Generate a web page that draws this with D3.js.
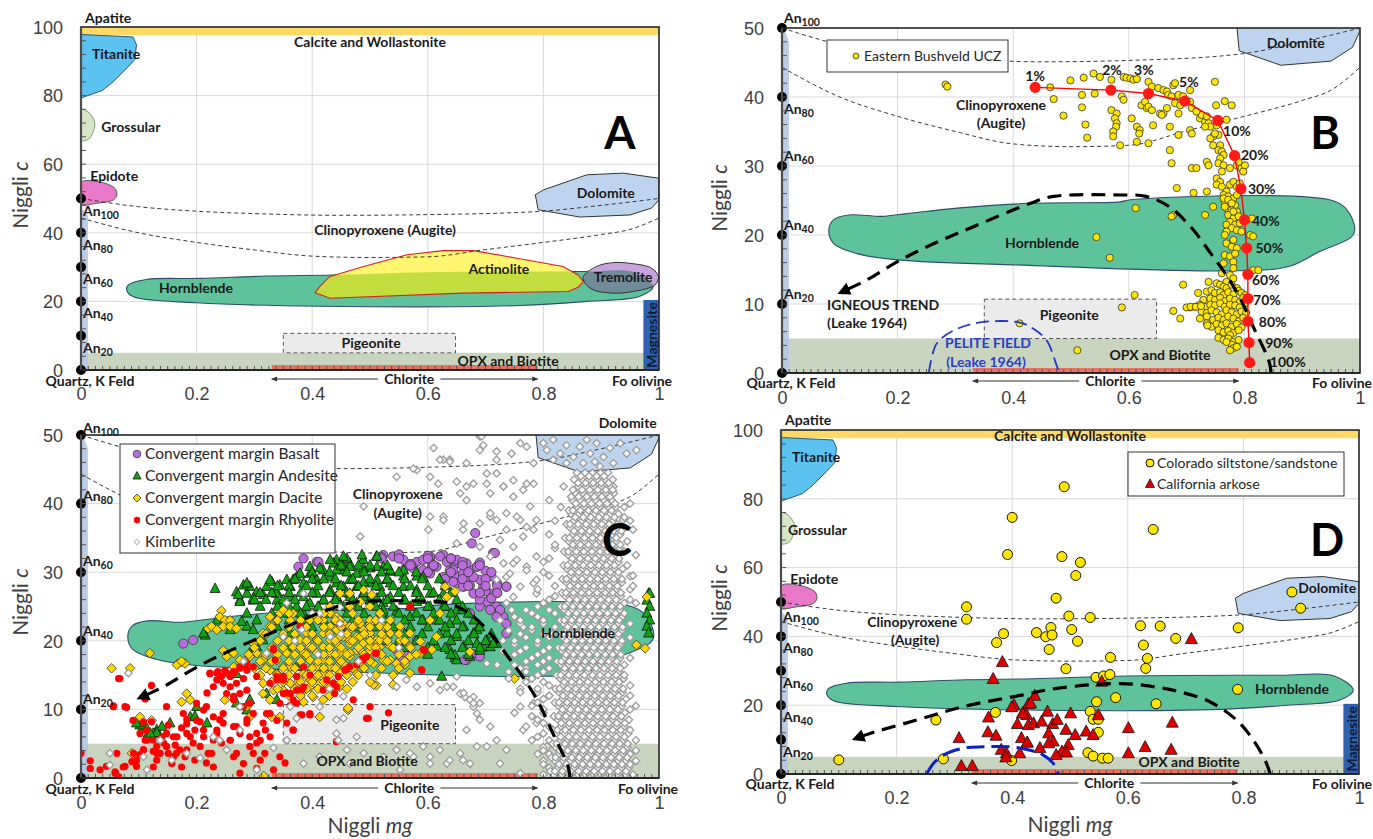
<!DOCTYPE html>
<html><head><meta charset="utf-8">
<script src="https://cdn.jsdelivr.net/npm/d3@7"></script>
<style>
body{margin:0;background:#fff;}
svg{display:block;font-family:Lato,"Open Sans",sans-serif;}
.lbl{font-weight:700;font-size:14px;fill:#1a1a1a;}
.tick{font-size:18px;fill:#404040;}
</style></head><body>
<svg id="c" width="1373" height="839"></svg>
<script>
// ---------- tick labels ----------
const xTicks=[0,0.2,0.4,0.6,0.8,1];
const yTicks100=[0,20,40,60,80,100];
const yTicks50=[0,10,20,30,40,50];
const anValues=[50,40,30,20,10,0];
const anSubs=["100","80","60","40","20",null];

// ---------- mineral fields (Niggli mg, Niggli c) ----------
const titanite=[[0,97.8],[.09,97.1],[.096,94.8],[.093,90.5],[.079,88],[.056,84.1],[.037,81.5],[0,79.3]];
const grossular=[[0,75.9],[.011,75.4],[.021,73.4],[.024,71.5],[.02,69],[.013,67.3],[0,67]];
const epidote=[[0,54.7],[.033,54.8],[.059,52.9],[.062,51],[.056,49.6],[.027,48.6],[0,48.4]];
const dolomite=[[.786,51.1],[.80,52.5],[.875,56.9],[.938,57.4],[1,55.9],[1,49.6],[.987,47.2],[.95,45.2],[.863,44.6],[.791,46.7]];
const hornblendeFull=[[.079,23.3],[.082,24.8],[.113,26.4],[.206,26.7],[.321,27.4],[.436,27.7],[.6,28.5],[.863,28.7],[.957,28.5],[.99,24.4],[.967,21.5],[.875,20],[.76,18.8],[.412,18.6],[.2,19.6],[.09,21.4]];
const hornblendeHalf=[[.081,20.7],[.089,22.2],[.115,22.9],[.173,22.7],[.216,23.1],[.303,23.9],[.43,24.6],[.585,24.8],[.603,25.1],[.956,24.9],[.982,23.1],[.991,20.7],[.985,19.7],[.93,17.6],[.875,15.4],[.759,14.8],[.43,15.6],[.2,16.4],[.13,17.3],[.089,18.8]];
const actinolite=[[.405,22.5],[.413,24.3],[.43,27.2],[.489,30.2],[.564,33.6],[.627,34.8],[.679,34.8],[.754,32.6],[.834,30.2],[.86,27.7],[.869,25.8],[.86,24.1],[.843,22.9],[.661,22.4],[.431,20.9]];
const tremolite=[[.869,27.2],[.892,30.2],[.92,31.3],[.95,31.1],[.987,29.7],[.999,27.2],[.993,24.8],[.956,22.9],[.922,22.4],[.887,23.3],[.872,25.3]];
const magnesite=[.973,1,0,20.4];
const pigeonite=[.35,.648,5,10.7];
const opxTop=5, apatiteBottom=97.6, chlorite=[.33,.79];
const cpxUpper=[[0,50],[.1,47.6],[.2,46.3],[.3,45.6],[.45,45.1],[.6,45.3],[.79,46.2],[.9,48],[1,50]];
const cpxLower=[[0,44.3],[.1,40],[.2,37.2],[.3,35],[.4,33.2],[.5,32.8],[.6,33],[.7,35.1],[.8,37.2],[.9,39.5],[.95,41],[1,44.3]];
const trendHalf=[[.846,0],[.843,1.6],[.817,6.4],[.794,10.6],[.771,13.9],[.742,17.3],[.707,21.2],[.67,24.1],[.63,25.6],[.585,25.8],[.47,25.6],[.43,24.6],[.331,21.2],[.256,18.5],[.199,16.1],[.147,13.5],[.11,12]];
const trendD=[[.846,0],[.84,3.1],[.817,9.9],[.788,15.7],[.742,21],[.69,23.9],[.644,25.4],[.586,26.3],[.477,24.9],[.419,23],[.316,19.6],[.235,15.7],[.154,11.8],[.137,10.8]];
const peliteB=[[.254,0],[.268,4.3],[.303,6.4],[.349,7.4],[.412,7.3],[.435,6.4],[.458,4.7],[.476,0.9],[.48,0]];
const peliteD=[[.252,0],[.264,3.1],[.281,5.5],[.315,7.5],[.35,7.9],[.396,7.9],[.431,6.9],[.454,5.5],[.471,3.1],[.48,0]];

// ---------- Panel B data ----------
const crystPct=["1%","2%","3%","5%","10%","20%","30%","40%","50%","60%","70%","80%","90%","100%"];
const crystPath=[[.438,41.4],[.569,41.0],[.634,40.5],[.697,39.4],[.754,36.6],[.783,31.5],[.794,26.7],[.800,22.2],[.804,18.1],[.806,14.3],[.806,10.8],[.806,7.5],[.808,4.4],[.809,1.5]];
const crystLabelPos=[[.438,43.0],[.571,43.9],[.626,43.9],[.704,42.2],[.787,35.1],[.818,31.6],[.830,26.7],[.837,22.0],[.843,18.1],[.837,13.5],[.839,10.6],[.849,7.4],[.860,4.3],[.875,1.6]];
const bushveld=[
[.464,41.4],[.499,42.4],[.522,42.8],[.47,39.7],[.519,40.3],[.519,38.5],[.487,37.3],[.525,36],[.528,34.1],[.511,3.3],[.411,7.2],[.283,41.8],[.286,41.5],[.544,19.7],[.567,16.7],[.612,23.9],
[.539,43.4],[.550,42.9],[.570,42.5],[.541,40.5],[.591,42.9],[.596,42.8],[.603,42.7],[.608,42.5],[.614,42.6],[.588,40.1],[.591,39.6],[.570,38.1],[.579,37.6],[.576,36.9],[.579,36.2],[.578,35.7],[.573,35.0],[.573,34.3],[.585,33.0],[.605,36.9],[.614,35.7],[.619,35.2],[.618,34.7],[.614,33.5],[.622,38.8],[.631,38.4],[.628,39.3],[.634,38.6],[.640,38.1],[.642,35.9],[.634,33.3],[.654,37.6],[.660,37.6],[.671,35.7],[.686,34.5],[.706,35.2],[.709,34.7],[.680,39.1],[.686,37.6],[.689,38.8],[.706,39.3],[.723,36.9],[.726,37.4],[.732,36.4],[.738,36.2],[.741,35.7],[.735,37.2],[.751,38.8],[.749,42.2],[.766,39.4],[.778,38.8],[.769,36.7],[.634,42.2],[.640,41.5],[.651,41.3],[.660,41.0],[.666,40.8],[.668,40.3],[.674,40.1],[.677,41.7],[.680,42.0],[.657,37.4],[.709,38.4],[.666,38.4],[.686,40.3],[.694,40.1],[.706,41.0],[.717,37.9],
[.752,35.9],[.755,34.5],[.746,34.3],[.758,33.0],[.755,32.3],[.761,32.1],[.764,31.6],[.758,31.1],[.755,30.4],[.764,30.1],[.761,29.2],[.775,29.7],[.787,30.1],[.795,29.7],[.798,29.2],[.801,30.1],[.790,30.6],[.752,28.2],[.758,27.7],[.752,27.3],[.761,27.0],[.775,27.3],[.781,27.7],[.787,27.0],[.792,27.5],[.769,26.3],[.764,25.8],[.772,25.6],[.781,25.3],[.787,25.8],[.766,24.8],[.775,24.6],[.784,24.3],[.769,23.9],[.778,23.6],[.787,23.4],[.772,22.9],[.781,22.4],[.790,22.7],[.775,21.9],[.769,21.5],[.784,21.5],[.792,21.7],[.778,21.0],[.787,20.7],[.769,20.5],[.795,20.5],[.810,20.0],[.815,19.8],[.766,20.0],[.781,19.3],[.769,18.8],[.778,18.3],[.787,18.1],[.766,17.1],[.775,16.9],[.784,17.3],[.781,16.1],[.764,15.9],[.781,15.2],[.815,14.9],[.824,14.9],[.746,24.1],[.813,22.4],[.735,30.6],[.738,30.1],[.735,26.3],[.712,26.1],[.683,26.8],[.674,30.4],[.671,32.3],[.709,29.7],[.717,29.7],[.677,22.9],[.674,22.7],[.732,22.9],[.746,33.0],[.741,34.0],[.749,34.7],[.732,35.7],[.764,25.3],[.772,25.1],[.778,24.6],[.766,24.1],[.781,23.4],
[.761,14.45],[.775,14.2],[.781,13.7],[.769,13.2],[.738,13.2],[.752,13.0],[.758,12.8],[.764,12.5],[.769,12.3],[.778,12.8],[.787,12.3],[.694,12.8],[.720,11.6],[.735,11.8],[.743,12.0],[.749,11.6],[.758,11.7],[.764,11.3],[.772,11.7],[.781,11.4],[.790,11.9],[.795,11.6],[.801,11.3],[.729,10.6],[.741,10.8],[.749,10.6],[.758,10.9],[.766,10.4],[.775,10.8],[.784,10.6],[.792,10.3],[.798,10.9],[.610,11.3],[.706,9.5],[.715,9.6],[.723,9.9],[.732,9.6],[.741,9.9],[.749,9.8],[.758,10.1],[.766,9.6],[.775,9.9],[.784,9.8],[.792,9.5],[.801,10.1],[.588,9.5],[.700,9.5],[.677,9.0],[.726,8.9],[.735,8.7],[.743,9.1],[.752,8.8],[.761,8.5],[.769,9.1],[.778,8.8],[.787,8.5],[.795,8.9],[.803,8.7],[.689,7.9],[.723,7.9],[.735,8.2],[.746,7.7],[.755,8.0],[.764,7.7],[.772,8.2],[.781,7.9],[.790,7.5],[.798,8.0],[.735,7.2],[.743,6.7],[.752,7.1],[.761,6.9],[.769,7.2],[.778,6.7],[.787,7.1],[.795,6.6],[.755,6.2],[.764,5.9],[.772,6.1],[.781,5.8],[.790,6.2],[.775,5.5],[.755,5.1],[.764,4.8],[.772,5.0],[.781,4.5],[.790,4.8],[.778,4.1],[.769,4.5],[.781,3.6],[.787,3.8],[.775,3.3],
[.707,9.6],[.716,9.6],[.725,9.7],[.736,6.9]
];

// ---------- Panel C data ----------
const basalt=[
[.177,19.6],[.194,20.1],[.376,30.8],[.385,32.0],[.408,31.5],[.442,31.3],[.457,31.3],[.411,31.5],
[.523,32.5],[.54,32.3],[.558,31.8],[.581,31.5],[.604,31.8],[.627,32.5],[.638,31.8],[.615,30.8],[.638,30.3],[.65,31.3],[.662,30.8],[.673,30.3],[.685,30.8],[.638,29.4],[.65,29.4],[.662,29.4],[.673,29.1],[.65,28.4],[.662,27.9],[.673,28.1],[.627,28.9],[.604,29.8],[.592,30.3],[.575,30.6],[.558,30.3],[.682,35.7],[.676,34.2],[.713,32.8],[.736,27.9],[.719,25.0],[.731,23.5],[.736,21.1],[.702,25.7],[.69,25.0],[.673,24.0],[.667,17.2],[.69,17.7],[.581,20.1],[.563,18.2],[.546,18.7],[.555,16.7],[.696,27.9],[.708,26.9],[.69,28.9],[.489,21.1],[.465,22.1],
[.716,32.8],[.621,32.3],[.633,31.5],[.65,31.8],[.667,31.3],[.685,30.8],[.644,30.3],[.661,29.8],[.679,29.3],[.627,29.3],[.644,28.6],[.661,27.9],[.679,26.9],[.69,26.0],[.708,24.5],[.725,24.5],[.736,27.9],[.719,23.5],[.736,22.5],[.664,17.2],[.552,17.2],[.676,18.1],[.592,31.8],[.604,32.3],[.607,30.8],
[.52,32.2],[.55,32.6],[.60,32.4],[.64,32.0],[.57,31.2],[.61,31.0],[.66,31.5],[.69,31.4],[.70,30.2],[.71,29.4],[.72,28.4],[.70,27.2],[.72,27.0],[.71,26.2]
];
const basaltCore=[[32,[.52,.55,.60,.64]],[31,[.57,.61,.66,.69]],[30,[.60,.64,.67,.71]],[29,[.63,.66,.70]],[28,[.67,.70,.72]],[27,[.69,.72]]];
const andesite=[
[.232,27.6],[.215,20.8],[.269,27.1],[.275,25.9],[.287,26.9],[.292,27.9],[.281,28.1],[.298,25.9],[.304,27.1],[.315,26.7],[.321,27.9],[.33,28.6],[.339,27.1],[.344,28.1],[.356,28.9],[.362,27.9],[.373,29.3],[.385,28.4],[.396,29.8],[.408,28.9],[.419,30.3],[.431,29.3],[.442,31.8],[.454,30.3],[.465,31.3],[.477,29.8],[.488,31.8],[.5,30.6],[.511,32.3],[.523,30.8],[.339,25.9],[.35,25.5],[.362,26.4],[.373,25.0],[.385,26.4],[.396,25.5],[.408,26.9],[.419,25.9],[.431,27.4],[.442,26.4],[.454,27.9],[.465,26.9],[.477,27.9],[.488,26.9],[.5,28.4],[.517,27.9],[.529,28.9],[.385,24.0],[.408,24.5],[.431,25.0],[.454,25.0],[.477,25.5],[.5,25.9],[.523,25.5],[.304,23.0],[.287,22.1],[.315,20.1],[.304,19.1],[.292,18.2],[.281,16.7],[.269,15.2],[.287,24.0],[.258,21.6],[.235,23.0],[.278,22.8],[.298,21.6],[.339,22.1],[.362,21.1],[.396,21.6],[.362,19.1],[.108,7.5],[.116,6.5],[.131,7.0],[.14,7.5],[.125,6.5],[.154,8.0],[.189,8.9],[.2,10.4],[.269,10.9],[.287,9.9],[.339,11.4],[.292,11.4],[.321,12.3],[.373,16.2],
[.212,21.1],[.275,25.7],[.272,26.7],[.287,28.4],[.298,26.2],[.327,28.9],[.338,26.9],[.367,28.9],[.379,29.8],[.396,30.8],[.413,30.6],[.437,31.3],[.46,32.0],[.454,30.8],[.102,7.7],[.114,7.2],[.131,6.6],[.096,8.0],[.12,6.5],[.197,9.0],[.218,8.0],
[.431,31.8],[.454,32.3],[.486,32.5],[.512,32.3],[.442,30.3],[.465,30.8],[.489,30.6],[.512,30.8],[.535,30.1],[.558,29.4],[.581,29.4],[.442,28.4],[.465,28.9],[.489,28.6],[.512,28.9],[.535,28.4],[.558,27.9],[.581,27.4],[.604,26.9],[.627,26.9],[.442,26.4],[.465,26.4],[.489,26.4],[.512,26.2],[.535,26.4],[.558,25.9],[.581,25.7],[.604,25.0],[.627,25.0],[.65,24.5],[.523,24.5],[.546,24.3],[.569,23.5],[.592,23.0],[.615,23.0],[.638,22.5],[.662,22.1],[.679,21.1],[.685,19.6],[.696,19.1],[.708,19.1],[.719,19.6],[.65,20.6],[.633,21.1],[.615,19.2],[.638,18.7],[.662,19.2],[.647,17.5],[.673,17.7],[.624,14.8],[.979,25.9],[.982,26.9],[.984,25.0],[.979,24.0],[.984,23.0],[.979,22.1],[.982,21.1],[.984,26.9],[.592,29.3],[.558,30.3],[.535,30.3],[.661,24.5],[.685,21.6],[.702,20.1],[.713,19.6],[.69,18.6],[.65,17.2],[.647,17.9]
];
const andesiteCore=[
[31,[.45,.48,.50,.53]],[30,[.40,.43,.46,.49,.52,.55,.58]],[29,[.37,.40,.42,.44,.47,.50,.53,.56,.59,.62]],
[28,[.34,.36,.39,.41,.45,.48,.51,.54,.57,.60,.63]],[27,[.31,.33,.36,.38,.40,.43,.46,.49,.52,.55,.58,.61,.64]],
[26,[.30,.32,.35,.37,.42,.44,.47,.50,.53,.56,.59,.62,.65]],[25,[.31,.34,.36,.39,.41,.45,.48,.51,.54,.57,.60,.63,.66]],
[24,[.33,.35,.38,.40,.43,.46,.49,.52,.55,.58,.61,.64,.67]],[23,[.36,.39,.42,.44,.47,.50,.53,.56,.59,.62,.65,.68]],
[22,[.40,.45,.48,.51,.54,.57,.60,.63,.66,.69]],[21,[.46,.50,.53,.56,.59,.62,.65,.68,.71]],[20,[.52,.55,.58,.61,.64,.67,.70]],
[19,[.56,.60,.63,.66,.69]],[18,[.60,.64,.67]]
];
const dacite=[
[.053,16.0],[.085,16.0],[.119,18.2],[.102,8.9],[.122,8.4],[.088,3.6],[.243,24.4],[.24,23.5],[.249,23.0],[.22,21.8],[.226,22.1],[.235,21.6],[.246,22.1],[.258,23.0],[.258,22.1],[.269,21.8],[.168,16.7],[.174,16.9],[.18,16.7],[.183,12.3],[.189,11.4],[.174,11.1],[.249,11.4],[.287,10.4],[.292,8.9],[.315,12.3],[.327,11.4],[.333,12.8],[.315,13.8],[.33,8.9],[.246,18.6],[.252,17.7],[.264,18.2],[.275,17.2],[.264,16.2],[.292,17.7],[.304,18.2],[.298,19.6],[.31,20.1],[.315,21.1],[.327,22.1],[.339,23.0],[.327,23.5],[.344,24.0],[.35,24.5],[.362,23.0],[.367,24.0],[.315,17.2],[.327,15.7],[.339,15.2],[.35,16.2],[.362,16.2],[.339,17.2],[.356,18.2],[.367,19.1],[.379,20.1],[.39,21.1],[.396,23.0],[.408,23.5],[.419,23.0],[.431,24.0],[.442,23.5],[.385,18.2],[.396,19.1],[.408,20.1],[.419,21.1],[.431,22.1],[.442,21.6],[.454,22.5],[.465,21.6],[.477,22.5],[.488,21.6],[.5,22.5],[.511,23.0],[.523,22.1],[.408,18.2],[.419,19.1],[.431,20.1],[.442,19.6],[.454,20.6],[.465,19.6],[.477,20.6],[.488,19.6],[.5,20.6],[.511,20.1],[.523,20.6],[.396,17.2],[.408,16.2],[.419,17.2],[.431,18.2],[.442,17.7],[.454,18.6],[.465,17.7],[.477,18.6],[.5,18.6],[.517,19.1],[.385,15.2],[.396,14.3],[.408,14.8],[.419,15.2],[.431,16.2],[.442,16.2],[.454,16.7],[.465,16.2],[.477,15.2],[.488,16.2],[.506,16.7],[.523,17.2],[.373,13.8],[.385,12.8],[.396,13.3],[.413,13.8],[.431,13.3],[.448,13.3],[.385,11.1],[.402,11.8],[.419,11.4],[.362,13.8],[.35,12.8],[.344,8.9],[.413,8.9],[.462,9.9],[.511,13.5],[.316,0.3],[.166,16.5],[.174,17.0],
[.431,25.0],[.448,26.9],[.465,26.9],[.489,27.4],[.503,26.7],[.63,27.9],[.647,27.2],[.633,26.4],[.621,24.0],[.604,23.0],[.615,20.6],[.607,18.7],[.673,18.4],[.587,19.9],[.569,21.1],[.552,22.1],[.535,23.0],[.517,24.0],[.5,25.0],[.483,25.7],[.465,25.0],[.448,23.0],[.465,22.1],[.483,22.5],[.5,23.0],[.517,22.1],[.535,21.1],[.552,20.1],[.569,19.2],[.587,18.2],[.569,17.7],[.552,18.2],[.535,19.2],[.517,20.1],[.5,21.1],[.483,20.6],[.465,20.1],[.448,20.6],[.431,21.1],[.448,18.2],[.465,18.2],[.483,18.7],[.5,19.2],[.517,18.2],[.535,17.2],[.5,17.2],[.483,16.7],[.465,16.2],[.448,15.3],[.437,13.8],[.431,16.2],[.546,16.7],[.561,16.6],[.569,15.3],[.506,13.6],[.54,13.6],[.462,10.2],[.961,19.4],[.976,18.9],[.979,26.4],[.75,14.5]
];
const daciteCore=[
[24,[.36,.42,.47]],[23,[.34,.38,.41,.44,.48,.51]],[22,[.33,.36,.39,.42,.45,.47,.50,.53]],
[21,[.32,.35,.37,.40,.43,.46,.49,.52,.55]],[20,[.31,.34,.36,.39,.41,.44,.47,.50,.53,.56]],
[19,[.30,.33,.35,.38,.40,.43,.45,.48,.51,.54,.57]],[18,[.29,.32,.34,.37,.39,.42,.44,.46,.49,.52,.55,.58]],
[17,[.31,.33,.36,.38,.41,.43,.45,.48,.50,.53,.56]],[16,[.30,.32,.35,.37,.40,.42,.44,.47,.49,.52,.55]],
[15,[.31,.34,.36,.39,.41,.43,.46,.48,.51,.54]],[14,[.33,.35,.38,.40,.42,.45,.47,.50]],[13,[.34,.37,.39,.41,.44,.46]],[12,[.36,.38,.40,.43]]
];
const rhyolite=[
[0,3.6],[.016,2.5],[.016,1.4],[.033,1.2],[.044,1.7],[.059,0.9],[.065,0.2],[.065,14.5],[.056,10.5],[.079,10.3],[.076,1.7],[.088,2.4],[.096,1.7],[.102,3.4],[.091,3.6],[.108,4.1],[.111,5.5],[.114,7.0],[.108,8.2],[.122,8.2],[.125,5.5],[.125,3.9],[.131,2.6],[.137,3.6],[.131,4.6],[.143,5.1],[.148,6.5],[.151,3.6],[.16,3.1],[.163,4.8],[.166,6.0],[.171,4.1],[.174,7.3],[.183,6.5],[.183,8.5],[.18,3.1],[.194,5.1],[.197,7.0],[.206,8.2],[.212,6.0],[.217,2.2],[.226,3.6],[.229,5.5],[.235,7.0],[.24,8.5],[.246,9.4],[.212,9.9],[.2,10.9],[.218,12.4],[.229,13.3],[.223,15.3],[.235,15.3],[.243,14.8],[.252,15.3],[.264,15.3],[.275,16.2],[.284,16.5],[.258,13.3],[.264,11.9],[.275,10.4],[.287,8.5],[.269,7.5],[.258,5.5],[.264,3.1],[.275,0.7],[.292,6.0],[.298,3.6],[.31,2.6],[.304,5.1],[.319,7.0],[.321,9.4],[.333,1.2],[.344,3.1],[.353,2.2],[.327,13.8],[.339,14.8],[.35,14.3],[.356,12.4],[.367,11.4],[.379,9.2],[.396,9.4],[.356,8.0],[.367,7.0],[.442,5.3],[.382,12.9],[.333,18.7],[.287,16.7],[.304,14.8],
[.067,14.5],[.056,10.4],[.122,13.5],[.111,11.5],[.076,10.4],[.09,8.4],[.102,6.5],[.114,5.5],[.108,4.1],[.096,2.6],[.073,1.6],[.062,3.6],[.059,0.7],[.131,3.6],[.125,1.6],[.148,10.4],[.151,7.7],[.16,6.0],[.14,6.0],[.148,4.6],[.165,3.6],[.157,2.1],[.174,1.6],[.183,4.1],[.189,6.0],[.183,7.9],[.177,9.4],[.2,8.4],[.212,7.0],[.206,4.6],[.197,2.6],[.22,3.6],[.229,1.6],[.243,5.1],[.235,6.5],[.246,8.0],[.229,8.9],[.217,10.4],[.223,15.2],[.237,15.5],[.249,15.7],[.264,15.5],[.275,16.0],[.287,15.7],[.298,16.2],[.235,14.3],[.246,13.8],[.258,14.8],[.269,13.8],[.281,14.5],[.252,12.3],[.264,11.4],[.275,12.3],[.287,12.8],[.292,10.9],[.281,10.4],[.298,9.4],[.287,8.0],[.275,6.5],[.264,7.5],[.258,5.5],[.269,3.6],[.281,2.1],[.292,4.6],[.304,6.5],[.315,8.0],[.31,5.5],[.318,3.6],[.304,1.4],[.327,6.0],[.339,8.4],[.327,9.4],[.344,10.9],[.35,12.3],[.362,12.3],[.373,12.8],[.385,13.3],[.362,10.6],[.373,10.9],[.333,18.9],[.336,17.2],[.379,22.1],[.448,22.5],[.457,15.7],[.477,16.5],[.488,17.2],[.511,18.2],[.382,9.2],[.396,9.2],[.367,7.0],[.494,8.7],[.419,12.8],[.425,14.3],[.436,13.8],[.445,14.8],[.396,15.0],[.35,14.8],[.373,14.8],[.385,16.2],[.339,14.3],
[.509,18.2],[.489,17.5],[.465,16.2],[.457,15.8],[.569,25.0],[.592,18.7],[.589,15.8],[.442,13.3],[.439,12.3],[.471,11.4],[.5,10.4],[.497,8.7],[.532,9.5],[.442,5.3],[.595,18.6],[.59,15.7],[.486,17.4],[.494,17.7]
];
const kimberlite=[
[.610,48.1],[.69,49.8],[.604,43.9],[.627,46.4],[.638,46.4],[.667,45.9],[.69,47.8],[.719,46.4],[.745,47.3],[.76,48.8],[.771,48.3],[.783,45.9],[.581,44.9],[.618,42.9],[.656,41.5],[.667,40.5],[.679,42.9],[.702,44.4],[.708,41.5],[.731,42.5],[.748,41.0],[.771,42.9],[.777,39.6],[.76,37.6],[.736,38.6],[.708,38.1],[.69,37.1],[.661,36.2],[.627,38.1],[.601,36.2],[.765,35.2],[.748,33.7],[.725,34.7],[.783,36.2],[.788,32.3],[.771,30.8],[.748,31.3],[.736,29.3],[.76,27.9],[.783,28.4],[.788,26.9],[.719,28.9],[.748,26.4],[.736,25.5],
[.8,48.8],[.806,47.8],[.817,49.3],[.829,47.3],[.84,48.5],[.852,46.8],[.863,48.3],[.875,49.3],[.881,47.3],[.892,48.8],[.904,46.8],[.915,48.1],[.933,48.8],[.944,47.3],[.921,45.9],[.84,45.9],[.817,46.4],[.961,47.8],[.898,45.4],[.869,45.9],[.889,46.1],
[.76,10.4],[.783,10.9],[.765,7.0],[.788,8.0],[.806,4.6],[.736,4.1],[.69,10.9],[.679,11.8],[.685,9.4],[.667,7.0],[.702,4.6],[.725,2.1],[.76,0.7],[.633,2.1],[.661,2.6],[.604,2.1],[.575,3.1],[.552,1.2],[.621,12.8],[.644,13.3],[.656,12.3],[.664,11.8],[.673,11.4],[.679,10.4],[.69,8.5],[.708,7.5],[.719,5.5],
[.454,8.7],[.477,6.0],[.489,3.6],[.523,3.1],[.546,4.1],[.569,3.6],[.592,4.6],[.604,3.1],[.621,4.1],[.638,2.6],[.656,3.6],[.673,2.1],[.685,4.6],[.442,6.5],[.465,2.1],[.679,10.9],[.662,12.4],[.65,14.8],[.702,16.7],[.546,13.3],[.563,14.3],[.581,13.3],[.604,13.8],[.633,13.3],
[.082,15.3],[.05,1.9],[.05,3.6],[.114,1.2],[.108,3.1],[.137,5.5],[.157,2.6],[.183,3.6],[.206,2.9],[.24,5.5],[.252,4.1],[.304,1.2],[.333,4.4],[.356,5.5],[.385,2.1],[.413,3.1],[.373,8.7],[.413,10.4],[.442,8.5],[.445,5.5],[.46,4.1],[.362,10.4],[.454,11.9],[.356,25.5],[.385,26.9],[.382,21.6],[.413,24.0],[.448,24.9],[.35,20.6],[.431,20.6],[.448,22.5],[.281,17.0],[.321,18.2],[.275,10.4],[.229,6.0],[.275,7.0],
[.693,49.8],[.696,48.5],[.719,47.6],[.621,46.4],[.638,46.1],[.575,45.1],[.546,43.9],[.65,43.2],[.667,42.5],[.702,42.9],[.719,44.4],[.731,42.5],[.748,43.4],[.765,42.0],[.783,42.9],[.489,39.6],[.604,38.1],[.627,37.6],[.662,37.1],[.708,38.6],[.719,37.6],[.736,36.2],[.754,38.1],[.771,36.6],[.788,37.6],[.483,35.2],[.65,34.2],[.69,33.7],[.708,32.3],[.731,31.3],[.742,29.8],[.754,31.8],[.771,30.3],[.788,28.9],[.927,28.4],[.95,29.4],[.955,36.2],[.938,37.6],[.95,40.0],[.921,42.5],
[.37,20],[.41,18],[.45,21],[.48,17],[.52,23],[.43,13],[.50,15],[.55,19],[.40,24],
[.725,23],[.745,24.5],[.765,22],[.73,20],[.75,18],[.77,16],[.79,19.5],[.80,23],[.815,21],[.74,15.5],[.76,13],[.78,14.5],[.72,16.5],[.81,12]
];
const kimberliteColumn=[
[44.5,[.858,.872,.885,.899,.912]],[43.5,[.853,.866,.879,.893,.906,.92]],[42.5,[.835,.86,.874,.887,.90,.915]],
[41.5,[.855,.868,.881,.894,.908,.922]],[40.5,[.81,.85,.863,.877,.89,.904,.918]],[39.5,[.83,.857,.87,.884,.897,.911,.925,.94]],
[38.5,[.848,.862,.875,.889,.902,.916,.93]],[37.5,[.82,.853,.867,.88,.894,.907,.921,.95]],[36.5,[.846,.86,.873,.887,.90,.914,.928]],
[35.5,[.81,.851,.865,.878,.892,.905,.919,.933]],[34.5,[.844,.858,.871,.885,.898,.912,.926,.945]],[33.5,[.82,.85,.863,.877,.89,.904,.918,.932]],
[32.5,[.843,.857,.87,.884,.897,.911,.925,.96]],[31.5,[.80,.848,.862,.875,.889,.902,.916,.93]],[30.5,[.841,.855,.868,.882,.895,.909,.923,.937]],
[29.5,[.81,.847,.86,.874,.887,.901,.915,.929,.955]],[28.5,[.84,.853,.867,.88,.894,.908,.922,.936]],[27.5,[.79,.845,.859,.872,.886,.90,.913,.927,.95]],
[26.5,[.82,.838,.852,.865,.879,.893,.906,.92,.934]],[25.5,[.80,.843,.857,.87,.884,.898,.911,.925,.94,.96]],[24.5,[.77,.81,.836,.85,.863,.877,.891,.904,.918,.932]],
[23.5,[.75,.79,.842,.855,.869,.882,.896,.91,.923,.937]],[22.5,[.76,.80,.835,.848,.862,.875,.889,.903,.916,.93,.95]],[21.5,[.74,.78,.84,.854,.867,.881,.895,.908,.922,.936]],
[20.5,[.77,.81,.833,.847,.86,.874,.888,.901,.915,.929,.95]],[19.5,[.75,.79,.839,.852,.866,.88,.893,.907,.92,.934]],[18.5,[.73,.76,.80,.832,.845,.859,.873,.886,.90,.914,.928]],
[17.5,[.78,.81,.837,.851,.864,.878,.892,.905,.919,.933,.95]],[16.5,[.75,.79,.83,.844,.858,.871,.885,.899,.912,.926,.94]],[15.5,[.77,.80,.836,.849,.863,.877,.89,.904,.918,.931]],
[14.5,[.74,.78,.829,.843,.856,.87,.884,.897,.911,.925,.939]],[13.5,[.81,.834,.848,.862,.875,.889,.903,.916,.93,.95]],[12.5,[.76,.79,.827,.841,.855,.868,.882,.896,.909,.923,.937]],
[11.5,[.80,.833,.847,.86,.874,.888,.901,.915,.929,.943]],[10.5,[.78,.826,.84,.853,.867,.881,.894,.908,.922,.936,.96]],[9.5,[.75,.80,.831,.845,.859,.872,.886,.90,.913,.927,.941]],
[8.5,[.79,.825,.838,.852,.866,.879,.893,.907,.92,.934,.948]],[7.5,[.77,.81,.83,.844,.857,.871,.885,.898,.912,.926,.94]],[6.5,[.80,.823,.837,.851,.864,.878,.892,.905,.919,.933,.947]],
[5.5,[.78,.81,.829,.842,.856,.87,.883,.897,.911,.924,.938,.96]],[4.5,[.80,.821,.835,.849,.863,.876,.89,.904,.917,.931,.945]],[3.5,[.79,.81,.827,.841,.854,.868,.882,.895,.909,.923,.937,.95]],
[2.5,[.80,.82,.834,.847,.861,.875,.888,.902,.916,.93,.943,.96]],[1.5,[.81,.825,.839,.853,.866,.88,.894,.907,.921,.935,.948]],[0.5,[.80,.818,.832,.846,.86,.873,.887,.90,.914,.928,.942,.955]],
[44,[.865,.879,.892,.905]],[43,[.86,.873,.886,.90,.913]],[42,[.851,.867,.88,.894,.908,.92]],[41,[.848,.861,.875,.888,.901,.915]],[40,[.856,.87,.883,.897,.91,.924]],
[39,[.844,.851,.864,.878,.891,.905,.918]],[38,[.855,.869,.882,.896,.909,.923,.94]],[37,[.84,.846,.86,.874,.887,.901,.914,.928]],[36,[.853,.866,.88,.894,.907,.921,.935]],
[35,[.838,.845,.858,.871,.885,.899,.912,.926]],[34,[.82,.851,.864,.878,.891,.905,.919,.933]],[33,[.836,.843,.857,.87,.884,.898,.911,.925,.94]],[32,[.81,.85,.863,.877,.89,.904,.918,.931]],
[31,[.835,.842,.855,.869,.882,.896,.909,.923,.945]],[30,[.80,.848,.861,.875,.889,.902,.916,.93]],[29,[.833,.84,.854,.867,.881,.894,.908,.922,.936]],[28,[.82,.846,.86,.873,.887,.90,.914,.928,.955]],
[27,[.832,.839,.852,.866,.879,.893,.907,.92,.934]],[26,[.81,.845,.858,.872,.886,.899,.913,.926,.95]],[25,[.79,.83,.837,.851,.864,.878,.892,.905,.919,.933]],[24,[.78,.82,.843,.857,.87,.884,.897,.911,.925,.94]],
[23,[.76,.80,.829,.836,.849,.863,.876,.89,.904,.917,.931]],[22,[.78,.82,.842,.855,.869,.882,.896,.91,.923,.937]],[21,[.76,.80,.827,.834,.848,.861,.875,.889,.902,.916,.93]],[20,[.75,.79,.84,.854,.867,.881,.895,.908,.922,.936]],
[19,[.77,.81,.826,.833,.847,.86,.874,.887,.901,.915,.929]],[18,[.75,.79,.839,.852,.866,.879,.893,.907,.92,.934]],[17,[.77,.80,.824,.831,.845,.859,.872,.886,.90,.913,.927]],[16,[.76,.81,.837,.851,.864,.878,.891,.905,.919,.933]],
[15,[.79,.823,.83,.844,.857,.871,.885,.898,.912,.926,.94]],[14,[.77,.80,.836,.849,.863,.877,.89,.904,.918,.931]],[13,[.79,.821,.828,.842,.856,.869,.883,.897,.91,.924,.938]],[12,[.81,.834,.848,.862,.875,.889,.903,.916,.93,.95]],
[11,[.79,.82,.827,.841,.854,.868,.882,.895,.909,.923,.937]],[10,[.80,.833,.847,.86,.874,.888,.901,.915,.929,.95]],[9,[.78,.818,.826,.839,.853,.867,.88,.894,.908,.921,.935]],[8,[.80,.831,.845,.859,.872,.886,.90,.913,.927,.941]],
[7,[.817,.824,.838,.852,.865,.879,.893,.906,.92,.934,.95]],[6,[.79,.83,.844,.857,.871,.885,.898,.912,.926,.94]],[5,[.816,.823,.837,.85,.864,.878,.891,.905,.919,.932,.946]],[4,[.80,.828,.842,.856,.869,.883,.897,.91,.924,.938,.96]],
[3,[.814,.821,.835,.849,.862,.876,.89,.903,.917,.931,.945]],[2,[.80,.827,.84,.854,.868,.881,.895,.909,.922,.936,.95]],[1,[.812,.82,.833,.847,.861,.874,.888,.902,.915,.929,.943]]
];

// ---------- Panel D data ----------
const colorado=[[.40,74.6],[.392,63.8],[.321,48.6],[.321,45.0],[.385,40.8],[.373,38.2],[.371,17.9],[.268,15.7],[.281,4.4],[.1,4.1],[.399,3.9],
[.49,83.5],[.644,71.1],[.486,63.2],[.518,61.5],[.51,57.7],[.476,51.1],[.498,45.9],[.535,45.5],[.442,41.1],[.458,39.9],[.467,42.6],[.469,40.4],[.503,42.0],[.513,38.6],[.464,36.2],[.493,30.6],[.622,43.1],[.656,43.0],[.683,39.4],[.627,37.5],[.634,33.6],[.631,30.7],[.57,33.9],[.545,28.1],[.558,28.5],[.569,28.9],[.579,22.2],[.546,21.0],[.535,18.2],[.54,15.9],[.549,15.9],[.549,12.1],[.649,20.4],[.791,42.5],[.79,24.6],[.884,52.9],[.899,48.2],[.531,6.2],[.54,5.2],[.556,4.6],[.566,4.6]];
const arkose=[[.383,32.5],[.367,27.6],[.403,20.0],[.399,19.4],[.428,20.3],[.359,16.4],[.418,17.6],[.425,17.1],[.409,14.5],[.428,14.2],[.358,12.1],[.372,11.1],[.308,10.4],[.416,10.4],[.426,9.1],[.381,7.0],[.39,6.0],[.389,4.8],[.413,6.0],[.312,2.3],[.331,2.3],[0,0],
[.439,22.7],[.432,20.5],[.418,17.6],[.437,14.7],[.451,15.2],[.461,18.1],[.47,14.5],[.478,15.7],[.501,17.6],[.493,12.8],[.509,11.3],[.528,12.3],[.54,11.3],[.549,17.1],[.555,26.8],[.601,13.3],[.677,14.9],[.71,39.2],[.463,11.8],[.471,9.4],[.426,9.1],[.448,7.5],[.463,8.9],[.497,8.4],[.486,6.5],[.494,6.2],[.476,5.5],[.601,6.0],[.63,7.8],[.675,7.0]];

// ---------- layout ----------
const P={A:{l:81,r:659,t:27,b:370,ymax:100},B:{l:782,r:1360,t:28,b:373,ymax:50},C:{l:81,r:659,t:435,b:778,ymax:50},D:{l:781,r:1359,t:430,b:774,ymax:100}};
const svg=d3.select("#c");
svg.append("rect").attr("width",1373).attr("height",839).attr("fill","#fff");
const defs=svg.append("defs");
defs.append("marker").attr("id","arrT").attr("viewBox","0 0 10 10").attr("refX",3).attr("refY",5)
 .attr("markerWidth",4).attr("markerHeight",4).attr("orient","auto")
 .append("path").attr("d","M0,0L10,5L0,10Z").attr("fill","#000");
defs.append("marker").attr("id","arrS").attr("viewBox","0 0 10 10").attr("refX",9).attr("refY",5)
 .attr("markerUnits","userSpaceOnUse").attr("markerWidth",7).attr("markerHeight",6).attr("orient","auto")
 .append("path").attr("d","M0,1L10,5L0,9Z").attr("fill","#333");

const rows=a=>a.flatMap(([c,ms])=>ms.map(m=>[m,c]));
const diamondP=s=>`M0,${-s}L${s},0L0,${s}L${-s},0Z`;
const triP=(w,h)=>`M0,${-h*0.6}L${w/2},${h*0.4}L${-w/2},${h*0.4}Z`;

function mk(key){
  const p=P[key];
  const g=svg.append("g");
  const x=d3.scaleLinear().domain([0,1]).range([p.l,p.r]);
  const y=d3.scaleLinear().domain([0,p.ymax]).range([p.b,p.t]);
  defs.append("clipPath").attr("id","clip"+key).append("rect").attr("x",p.l).attr("y",p.t).attr("width",p.r-p.l).attr("height",p.b-p.t);
  const plot=g.append("g").attr("clip-path",`url(#clip${key})`);
  const line=d3.line().x(d=>x(d[0])).y(d=>y(d[1]));
  return {key,p,g,x,y,plot,line};
}
function grid(S,yt){
  const {x,y,p,plot}=S;
  plot.selectAll(null).data(xTicks.slice(1,-1)).join("line").attr("x1",d=>x(d)).attr("x2",d=>x(d)).attr("y1",p.t).attr("y2",p.b).attr("stroke","#d9d9d9").attr("stroke-width",1);
  plot.selectAll(null).data(yt.slice(1,-1)).join("line").attr("y1",d=>y(d)).attr("y2",d=>y(d)).attr("x1",p.l).attr("x2",p.r).attr("stroke","#d9d9d9").attr("stroke-width",1);
}
function band(S,c0,c1,fill){
  S.plot.append("rect").attr("x",S.p.l).attr("width",S.p.r-S.p.l).attr("y",S.y(c1)).attr("height",S.y(c0)-S.y(c1)).attr("fill",fill);
}
function poly(S,pts,fill,stroke,curve,sw){
  const l=d3.line().x(d=>S.x(d[0])).y(d=>S.y(d[1])).curve(curve||d3.curveLinearClosed);
  return S.plot.append("path").attr("d",l(pts)).attr("fill",fill).attr("stroke",stroke||"none").attr("stroke-width",sw||1);
}
function rectD(S,r,fill,stroke,dash){
  return S.plot.append("rect").attr("x",S.x(r[0])).attr("width",S.x(r[1])-S.x(r[0])).attr("y",S.y(r[3])).attr("height",S.y(r[2])-S.y(r[3]))
   .attr("fill",fill).attr("stroke",stroke||"none").attr("stroke-dasharray",dash||null);
}
function plag(S,top){
  const pts=[[0,0],[0,top],[0.006,top-0.6],[0.012,top-2],[0.012,0]];
  poly(S,pts,"#b4c7e7",null,d3.curveLinearClosed).attr("opacity",0.9);
}
function chloriteBar(S){
  S.plot.append("rect").attr("x",S.x(chlorite[0])).attr("width",S.x(chlorite[1])-S.x(chlorite[0])).attr("y",S.p.b-5).attr("height",5).attr("fill","#e8715f");
}
function cpx(S){
  const l=d3.line().x(d=>S.x(d[0])).y(d=>S.y(d[1])).curve(d3.curveMonotoneX);
  [cpxUpper,cpxLower].forEach(a=>S.plot.append("path").attr("d",l(a)).attr("fill","none").attr("stroke","#3a3a3a").attr("stroke-width",1).attr("stroke-dasharray","4,3"));
}
function curveDash(S,pts,color,w,dash,arrow){
  const l=d3.line().x(d=>S.x(d[0])).y(d=>S.y(d[1])).curve(d3.curveCatmullRom.alpha(0.5));
  const path=S.g.append("path").attr("d",l(pts)).attr("fill","none").attr("stroke",color).attr("stroke-width",w).attr("stroke-dasharray",dash);
  if(arrow) path.attr("marker-end","url(#arrT)");
  return path;
}
function circles(S,data,r,fill,stroke,sw){
  S.plot.append("g").selectAll("circle").data(data).join("circle").attr("cx",d=>S.x(d[0])).attr("cy",d=>S.y(d[1])).attr("r",r)
   .attr("fill",fill).attr("stroke",stroke||"none").attr("stroke-width",sw||0.8);
}
function shapes(S,data,dstr,fill,stroke,sw){
  S.plot.append("g").selectAll("path").data(data).join("path").attr("d",dstr).attr("transform",d=>`translate(${S.x(d[0]).toFixed(2)},${S.y(d[1]).toFixed(2)})`)
   .attr("fill",fill).attr("stroke",stroke||"none").attr("stroke-width",sw||0.8);
}
function label(S,txt,mg,c,anchor,cls,fill){
  const t=S.g.append("text").attr("x",S.x(mg)).attr("y",S.y(c)).attr("dy","0.35em").attr("text-anchor",anchor||"middle").attr("class",cls||"lbl").text(txt);
  if(fill) t.style("fill",fill);
  return t;
}
function anDots(S,offs){
  const {x,y,g}=S;
  g.selectAll(null).data(anValues).join("circle").attr("cx",x(0)).attr("cy",d=>y(d)).attr("r",5).attr("fill","#000");
  anValues.forEach((v,i)=>{
    if(!anSubs[i]) return;
    const t=g.append("text").attr("x",x(0)+2).attr("y",y(v)+offs[i]).attr("dy","0.35em").attr("class","lbl");
    t.append("tspan").text("An");
    t.append("tspan").attr("font-size","10.5px").attr("dy","3").text(anSubs[i]);
  });
}
function frame(S,yt,xLabY,chlY,qY,foX){
  const {x,y,p,g}=S;
  g.selectAll(null).data(d3.range(0.0125,1,0.0125)).join("line").attr("x1",d=>x(d)).attr("x2",d=>x(d)).attr("y1",p.b).attr("y2",p.b-4).attr("stroke","#555").attr("stroke-width",1);
  const st=p.ymax/25;
  g.selectAll(null).data(d3.range(st,p.ymax,st)).join("line").attr("y1",d=>y(d)).attr("y2",d=>y(d)).attr("x1",p.l).attr("x2",p.l+5).attr("stroke","#555").attr("stroke-width",1);
  g.append("rect").attr("x",p.l).attr("y",p.t).attr("width",p.r-p.l).attr("height",p.b-p.t).attr("fill","none").attr("stroke","#262626").attr("stroke-width",1.6);
  g.append("line").attr("x1",p.l).attr("x2",p.l).attr("y1",p.t).attr("y2",p.b).attr("stroke","#4d4d4d").attr("stroke-width",2.2);
  g.append("line").attr("x1",p.l).attr("x2",p.r).attr("y1",p.b).attr("y2",p.b).attr("stroke","#262626").attr("stroke-width",2);
  const ax=g.append("g").attr("transform",`translate(0,${xLabY})`).call(d3.axisBottom(x).tickValues(xTicks).tickSize(0).tickFormat(d=>d===0?"0":d===1?"1":d3.format(".1f")(d)));
  ax.select(".domain").remove();
  ax.selectAll("text").attr("class","tick").attr("y",0).attr("dy","0.35em").attr("font-family",null).attr("font-size",null).attr("fill",null);
  const ay=g.append("g").attr("transform",`translate(${p.l-18},0)`).call(d3.axisLeft(y).tickValues(yt).tickSize(0).tickFormat(d3.format("d")));
  ay.select(".domain").remove();
  ay.selectAll("text").attr("class","tick").attr("x",0).attr("dy","0.35em").attr("font-family",null).attr("font-size",null).attr("fill",null);
  g.append("text").attr("class","lbl").attr("x",p.l+9).attr("y",qY).attr("dy","0.35em").attr("text-anchor","middle").text("Quartz, K Feld");
  g.append("text").attr("class","lbl").attr("x",foX).attr("y",qY).attr("dy","0.35em").attr("text-anchor","middle").text("Fo olivine");
  const cx=x((chlorite[0]+chlorite[1])/2+0.008);
  const ct=g.append("text").attr("class","lbl").attr("x",cx).attr("y",chlY).attr("dy","0.35em").attr("text-anchor","middle").text("Chlorite");
  const w=ct.node().getComputedTextLength();
  g.append("line").attr("x1",cx-w/2-6).attr("x2",x(chlorite[0])).attr("y1",chlY).attr("y2",chlY).attr("stroke","#333").attr("stroke-width",1).attr("marker-end","url(#arrS)");
  g.append("line").attr("x1",cx+w/2+6).attr("x2",x(chlorite[1])).attr("y1",chlY).attr("y2",chlY).attr("stroke","#333").attr("stroke-width",1).attr("marker-end","url(#arrS)");
}
function yTitle(S,cx,cy){
  const t=S.g.append("text").attr("transform",`translate(${cx},${cy}) rotate(-90)`).attr("text-anchor","middle").attr("dy","0.35em").style("font-size","21px").style("fill","#404040");
  t.append("tspan").text("Niggli ");t.append("tspan").style("font-style","italic").text("c");
}
function xTitle(S,cx,cy){
  const t=S.g.append("text").attr("x",cx).attr("y",cy).attr("text-anchor","middle").style("font-size","21px").style("fill","#404040");
  t.append("tspan").text("Niggli ");t.append("tspan").style("font-style","italic").text("mg");
}
function letter(S,txt,cx,cy){
  S.g.append("text").attr("x",cx).attr("y",cy).attr("dy","0.36em").attr("text-anchor","middle").style("font-size","45px").style("font-weight","700").style("fill","#000").text(txt);
}
function hornblendeWithOverlaps(S,hb,withAmph){
  const hbCurve=d3.curveCatmullRomClosed.alpha(0.5);
  poly(S,hb,"#5ec39b","#2d4f6c",hbCurve,1.1);
  if(!withAmph) return;
  const lc=d3.line().x(d=>S.x(d[0])).y(d=>S.y(d[1])).curve(d3.curveLinearClosed);
  const lt=d3.line().x(d=>S.x(d[0])).y(d=>S.y(d[1])).curve(d3.curveCatmullRomClosed.alpha(0.5));
  const lh=d3.line().x(d=>S.x(d[0])).y(d=>S.y(d[1])).curve(hbCurve);
  defs.append("clipPath").attr("id","clipAct"+S.key).append("path").attr("d",lc(actinolite));
  defs.append("clipPath").attr("id","clipTrem"+S.key).append("path").attr("d",lt(tremolite));
  S.plot.append("path").attr("d",lc(actinolite)).attr("fill","#fff56e");
  S.plot.append("path").attr("d",lh(hb)).attr("fill","#c3dd3f").attr("clip-path",`url(#clipAct${S.key})`);
  S.plot.append("path").attr("d",lc(actinolite)).attr("fill","none").attr("stroke","#d42020").attr("stroke-width",1.1);
  S.plot.append("path").attr("d",lt(tremolite)).attr("fill","#c8a2da");
  S.plot.append("path").attr("d",lh(hb)).attr("fill","#6f8b9a").attr("clip-path",`url(#clipTrem${S.key})`);
  S.plot.append("path").attr("d",lt(tremolite)).attr("fill","none").attr("stroke","#333").attr("stroke-width",1);
}
function magnesiteBox(S){
  rectD(S,magnesite,"#2f60b2");
  const cx=S.x((magnesite[0]+magnesite[1])/2), cy=S.y(magnesite[3]/2);
  S.g.append("text").attr("transform",`translate(${cx+0.5},${cy}) rotate(-90)`).attr("text-anchor","middle").attr("dy","0.35em").attr("class","lbl").style("fill","#0d1b33").text("Magnesite");
}
function fullFields(S){
  band(S,0,opxTop,"#c8d4bd");
  band(S,apatiteBottom,100,"#ffd966");
  plag(S,47);
  chloriteBar(S);
  poly(S,titanite,"#5bc2f2","#2d5a7a");
  poly(S,grossular,"#d6e6c6","#7d9a6d",d3.curveCatmullRomClosed.alpha(0.5));
  poly(S,epidote,"#e879c9","#555",d3.curveCatmullRomClosed.alpha(0.5));
  poly(S,dolomite,"#bdd4ee","#333");
}

// ================= Panel A =================
{
  const S=mk("A");
  grid(S,yTicks100);
  fullFields(S);
  hornblendeWithOverlaps(S,hornblendeFull,true);
  magnesiteBox(S);
  rectD(S,pigeonite,"#ebebeb","#555","4,3");
  cpx(S);
  anDots(S,[13,12,12,12,12]);
  frame(S,yTicks100,S.p.b+24,379,381,642);
  [["Calcite and Wollastonite",.5,95.6],["Dolomite",.908,51.6],["Clinopyroxene (Augite)",.526,40.8],["Hornblende",.199,23.9],
   ["Actinolite",.723,29.4],["Tremolite",.938,27.1],["Pigeonite",.502,7.9],["OPX and Biotite",.739,2.6]].forEach(d=>label(S,d[0],d[1],d[2]));
  [["Apatite",.007,102.6],["Titanite",.019,92.1],["Grossular",.035,70.8],["Epidote",.016,56.6]].forEach(d=>label(S,d[0],d[1],d[2],"start"));
  yTitle(S,21,195);
  letter(S,"A",620,133);
}
// ================= Panel B =================
{
  const S=mk("B");
  grid(S,yTicks50);
  band(S,0,opxTop,"#c8d4bd");
  plag(S,50);
  chloriteBar(S);
  poly(S,dolomite,"#bdd4ee","#333");
  hornblendeWithOverlaps(S,hornblendeHalf,false);
  rectD(S,pigeonite,"#ebebeb","#555","4,3");
  cpx(S);
  curveDash(S,peliteB,"#2038c8",1.8,"13,6",false);
  circles(S,bushveld,3.6,"#ffe600","#333",0.8);
  curveDash(S,trendHalf,"#000",3.2,"14,8",true);
  S.g.append("path").attr("d",S.line(crystPath)).attr("fill","none").attr("stroke","#ff0000").attr("stroke-width",1.4);
  S.g.selectAll(null).data(crystPath).join("circle").attr("cx",d=>S.x(d[0])).attr("cy",d=>S.y(d[1])).attr("r",5.6).attr("fill","#ff1a1a");
  crystPct.forEach((t,i)=>label(S,t,crystLabelPos[i][0],crystLabelPos[i][1]));
  anDots(S,[-10,12,-10,-10,-10]);
  frame(S,yTicks50,S.p.b+25,381,383,1342);
  [["Dolomite",.889,47.8],["Clinopyroxene",.379,38.8],["(Augite)",.379,36.2],["Hornblende",.45,18.8],["Pigeonite",.497,8.4],["OPX and Biotite",.654,2.6]].forEach(d=>label(S,d[0],d[1],d[2]));
  label(S,"IGNEOUS TREND",.078,9.9,"start");
  label(S,"(Leake 1964)",.078,7.2,"start");
  label(S,"PELITE FIELD",.282,4.3,"start","lbl","#2a3fd0");
  label(S,"(Leake 1964)",.284,1.6,"start","lbl","#2a3fd0");
  const lg=S.g.append("g");
  lg.append("rect").attr("x",827).attr("y",40).attr("width",181).attr("height",32).attr("fill","#fff").attr("stroke","#333").attr("stroke-width",1);
  lg.append("circle").attr("cx",856).attr("cy",56).attr("r",3).attr("fill","#ffe600").attr("stroke","#333").attr("stroke-width",0.8);
  lg.append("text").attr("x",864).attr("y",56).attr("dy","0.35em").style("font-size","14px").style("fill","#262626").text("Eastern Bushveld UCZ");
  yTitle(S,720,198);
  letter(S,"B",1325,133);
}
// ================= Panel C =================
{
  const S=mk("C");
  grid(S,yTicks50);
  band(S,0,opxTop,"#c8d4bd");
  plag(S,50);
  chloriteBar(S);
  poly(S,dolomite,"#bdd4ee","#333");
  hornblendeWithOverlaps(S,hornblendeHalf,false);
  rectD(S,pigeonite,"#ebebeb","#555","4,3");
  cpx(S);
  circles(S,basalt.concat(rows(basaltCore)),4.6,"#bb6ddd","#333",0.8);
  shapes(S,andesite.concat(rows(andesiteCore)),triP(10,9.5),"#12a312","#111",0.8);
  shapes(S,dacite.concat(rows(daciteCore)),diamondP(4.8),"#ffd500","#333",0.8);
  circles(S,rhyolite,3.6,"#ff0000");
  shapes(S,kimberlite.concat(rows(kimberliteColumn)),diamondP(3.7),"#fafafa","#9c9c9c",1.3);
  curveDash(S,trendHalf,"#000",3.2,"14,8",true);
  anDots(S,[-7,-8,-11,-10,-10]);
  frame(S,yTicks50,S.p.b+25,788,789,648);
  [["Dolomite",.946,51.7],["Clinopyroxene",.548,41.4],["(Augite)",.548,38.6],["Hornblende",.86,21.1],["Pigeonite",.569,7.7],["OPX and Biotite",.495,2.5]].forEach(d=>label(S,d[0],d[1],d[2]));
  const lg=S.g.append("g");
  lg.append("rect").attr("x",120).attr("y",444).attr("width",215).attr("height",109).attr("fill","#fff").attr("stroke","#333").attr("stroke-width",1);
  const items=["Convergent margin Basalt","Convergent margin Andesite","Convergent margin Dacite","Convergent margin Rhyolite","Kimberlite"];
  const ly=[454,476,498,520,542];
  lg.append("circle").attr("cx",137).attr("cy",ly[0]).attr("r",3.8).attr("fill","#bb6ddd").attr("stroke","#333").attr("stroke-width",0.8);
  lg.append("path").attr("d",triP(8,7.5)).attr("transform",`translate(137,${ly[1]})`).attr("fill","#12a312").attr("stroke","#111").attr("stroke-width",0.8);
  lg.append("path").attr("d",diamondP(4)).attr("transform",`translate(137,${ly[2]})`).attr("fill","#ffd500").attr("stroke","#333").attr("stroke-width",0.8);
  lg.append("circle").attr("cx",137).attr("cy",ly[3]).attr("r",3.2).attr("fill","#ff0000");
  lg.append("path").attr("d",diamondP(2.8)).attr("transform",`translate(137,${ly[4]})`).attr("fill","#fff").attr("stroke","#a6a6a6").attr("stroke-width",1);
  items.forEach((t,i)=>lg.append("text").attr("x",145).attr("y",ly[i]).attr("dy","0.35em").style("font-size","15.5px").style("fill","#262626").text(t));
  yTitle(S,21,602);
  xTitle(S,370,833);
  letter(S,"C",617,540);
}
// ================= Panel D =================
{
  const S=mk("D");
  grid(S,yTicks100);
  fullFields(S);
  hornblendeWithOverlaps(S,hornblendeFull,false);
  magnesiteBox(S);
  cpx(S);
  curveDash(S,peliteD,"#0a22c4",3,"18,7",false);
  circles(S,colorado,5,"#ffe600","#111",1);
  shapes(S,arkose,triP(12,11),"#e00000","#111",0.8);
  curveDash(S,trendD,"#000",3.2,"14,8",true);
  anDots(S,[15,12,12,12,12]);
  frame(S,yTicks100,S.p.b+24,783,784,1342);
  [["Calcite and Wollastonite",.5,98.3],["Dolomite",.945,54.1],["Clinopyroxene",.227,44.2],["(Augite)",.232,39.0],["Hornblende",.884,24.7],["OPX and Biotite",.706,3.5]].forEach(d=>label(S,d[0],d[1],d[2]));
  [["Apatite",.007,102.9],["Titanite",.019,92.1],["Grossular",.012,70.9],["Epidote",.016,56.7]].forEach(d=>label(S,d[0],d[1],d[2],"start"));
  const lg=S.g.append("g");
  lg.append("rect").attr("x",1128).attr("y",452).attr("width",216).attr("height",44).attr("fill","#fff").attr("stroke","#333").attr("stroke-width",1);
  lg.append("circle").attr("cx",1150).attr("cy",463).attr("r",4).attr("fill","#ffe600").attr("stroke","#111").attr("stroke-width",1);
  lg.append("path").attr("d",triP(9,8.5)).attr("transform","translate(1150,484)").attr("fill","#e00000").attr("stroke","#111").attr("stroke-width",0.8);
  lg.append("text").attr("x",1157).attr("y",463).attr("dy","0.35em").style("font-size","14px").style("fill","#262626").text("Colorado siltstone/sandstone");
  lg.append("text").attr("x",1157).attr("y",484).attr("dy","0.35em").style("font-size","14px").style("fill","#262626").text("California arkose");
  yTitle(S,720,598);
  xTitle(S,1070,832);
  letter(S,"D",1327,540);
}
</script>
</body></html>
